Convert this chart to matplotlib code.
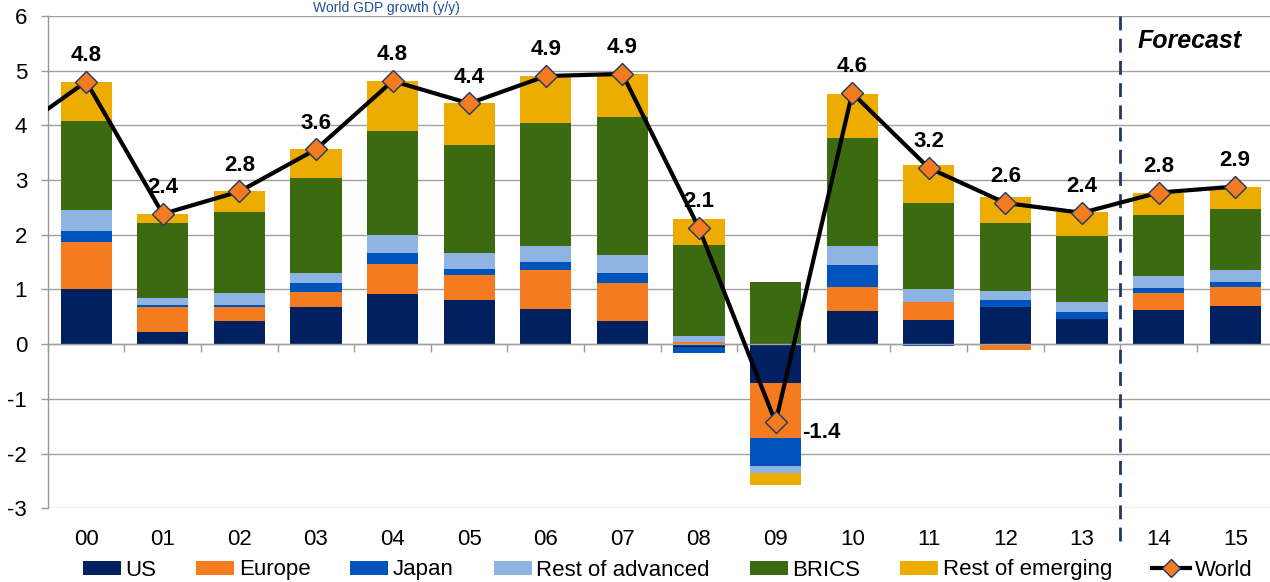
import numpy as np
import matplotlib
matplotlib.use("Agg")
import matplotlib.pyplot as plt
from matplotlib.patches import Patch
from matplotlib.lines import Line2D

plt.rcParams['font.family'] = ['Liberation Sans', 'DejaVu Sans']
plt.rcParams['axes.unicode_minus'] = False

# ---------------- data ----------------
years = ["00", "01", "02", "03", "04", "05", "06", "07",
         "08", "09", "10", "11", "12", "13", "14", "15"]
us = [1.00, 0.22, 0.43, 0.68, 0.92, 0.81, 0.64, 0.42,
      -0.06, -0.71, 0.61, 0.44, 0.67, 0.45, 0.63, 0.69]
europe = [0.87, 0.46, 0.25, 0.28, 0.54, 0.45, 0.72, 0.70,
          0.03, -1.01, 0.43, 0.33, -0.11, 0.00, 0.30, 0.35]
japan = [0.20, 0.03, 0.03, 0.15, 0.20, 0.11, 0.14, 0.18,
         -0.11, -0.51, 0.41, -0.03, 0.13, 0.14, 0.10, 0.09]
rest_adv = [0.39, 0.13, 0.22, 0.19, 0.33, 0.29, 0.30, 0.33,
            0.12, -0.13, 0.34, 0.23, 0.17, 0.18, 0.22, 0.22]
brics = [1.62, 1.38, 1.48, 1.73, 1.91, 1.98, 2.24, 2.52,
         1.66, 1.13, 1.98, 1.58, 1.25, 1.21, 1.11, 1.12]
rest_em = [0.72, 0.16, 0.38, 0.53, 0.91, 0.76, 0.86, 0.79,
           0.47, -0.22, 0.81, 0.69, 0.47, 0.43, 0.41, 0.40]
world = [4.80, 2.38, 2.79, 3.56, 4.81, 4.40, 4.90, 4.94,
         2.12, -1.43, 4.59, 3.22, 2.58, 2.40, 2.77, 2.88]
world_prev = 3.8   # 1999 value, only its segment is visible (clipped)

series_names = ["US", "Europe", "Japan", "Rest of advanced", "BRICS", "Rest of emerging"]
series_vals = [us, europe, japan, rest_adv, brics, rest_em]
series_colors = ["#00205F", "#F47B20", "#0053BB", "#8EB4E3", "#3C6A10", "#ECAC00"]
forecast_start = 13.5

# ---------------- figure ----------------
fig = plt.figure(figsize=(12.7, 5.82), dpi=100)
ax = fig.add_axes([47.9 / 1270, 1 - 508.2 / 582, 1225.6 / 1270, 492.3 / 582])

x = np.arange(len(years))
pos_base = np.zeros(len(years))
neg_base = np.zeros(len(years))
for name, vals, col in zip(series_names, series_vals, series_colors):
    v = np.array(vals)
    bottoms = np.where(v >= 0, pos_base, neg_base)
    ax.bar(x, v, bottom=bottoms, width=0.67, color=col, linewidth=0, zorder=2)
    pos_base = pos_base + np.where(v >= 0, v, 0)
    neg_base = neg_base + np.where(v < 0, v, 0)

# world line (including clipped 1999 point)
wx = np.concatenate([[-1], x])
wy = np.concatenate([[world_prev], world])
ax.plot(wx, wy, color="black", lw=3.0, zorder=4)
ax.plot(x, world, linestyle="none", marker="D", markersize=11,
        markerfacecolor="#F47B20", markeredgecolor="#1F3864",
        markeredgewidth=1.0, zorder=5)

for xi, wv in zip(x, world):
    if wv < 0:
        ax.annotate(f"{wv:.1f}", (xi, wv), xytext=(19, -11), textcoords="offset points",
                    ha="left", va="baseline", fontsize=16, fontweight="bold", zorder=6)
    else:
        ax.annotate(f"{wv:.1f}", (xi, wv), xytext=(0, 15), textcoords="offset points",
                    ha="center", va="baseline", fontsize=16, fontweight="bold", zorder=6)

# forecast divider
ax.plot([forecast_start, forecast_start], [6.0, -3.6], color="#1F3864", lw=2.0,
        linestyle=(0, (5, 3)), clip_on=False, zorder=3)
ax.text(14.41, 5.41, "Forecast", ha="center", va="baseline", fontsize=18,
        fontweight="bold", fontstyle="italic")

# axes styling
ax.set_xlim(-0.5, 15.5)
ax.set_ylim(-3, 6)
ax.set_yticks(range(-3, 7))
ax.tick_params(axis="y", direction="out", length=5, width=1, color="#999999",
               labelsize=16, pad=10)
ax.yaxis.grid(True, color="#A0A0A0", lw=1.0, zorder=0)
ax.set_axisbelow(True)
for s in ["top", "right"]:
    ax.spines[s].set_visible(False)
ax.spines["left"].set_color("#999999")
ax.spines["left"].set_linewidth(1.0)
ax.spines["bottom"].set_position(("data", 0))
ax.spines["bottom"].set_color("#A0A0A0")
ax.spines["bottom"].set_linewidth(1.0)
ax.set_xticks(np.arange(-0.5, 15.6, 1.0))
ax.set_xticklabels([])
ax.tick_params(axis="x", direction="out", length=5.5, width=1, color="#999999")

sec = ax.secondary_xaxis("bottom")
sec.set_xticks(x)
sec.set_xticklabels(years)
sec.tick_params(length=0, labelsize=16, pad=15)
sec.spines["bottom"].set_visible(False)

# legend
handles = [Patch(facecolor=c, edgecolor="none") for c in series_colors]
handles.append(Line2D([0], [0], color="black", lw=3, marker="D", markersize=9,
                      markerfacecolor="#F47B20", markeredgecolor="#1F3864"))
labels = series_names + ["World"]
fig.legend(handles, labels, loc="center", bbox_to_anchor=(667.5 / 1270, 1 - 570 / 582),
           ncol=7, frameon=False, fontsize=16, handlelength=1.71, handleheight=0.6,
           handletextpad=0.2, columnspacing=1.8)

# title at the top edge (mostly cropped in the original)
fig.text(460 / 1270, 1 - 1.0 / 582, "World GDP growth (y/y)", ha="right", va="top",
         fontsize=10, color="#1F4E9A")

fig.savefig("out.png", dpi=100)
